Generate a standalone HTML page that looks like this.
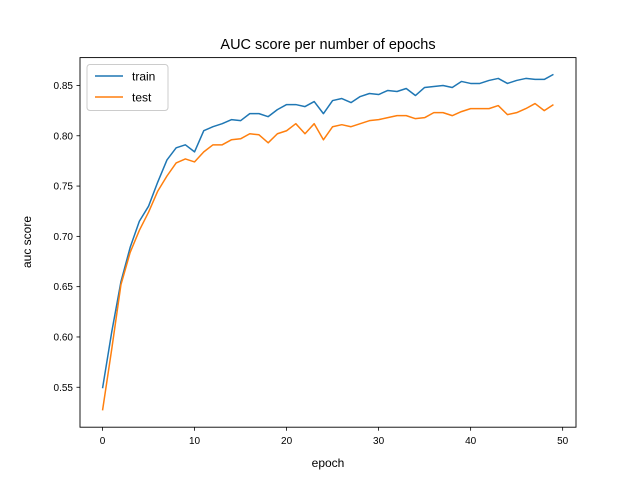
<!DOCTYPE html>
<html><head><meta charset="utf-8"><style>
html,body{margin:0;padding:0;background:#fff;}
svg{display:block;font-family:"Liberation Sans","DejaVu Sans",sans-serif;}
</style></head><body>
<svg id="chart" width="640" height="480" viewBox="0 0 640 480">
<rect width="640" height="480" fill="#fff"/>
<text x="328" y="49" font-size="14.5" text-anchor="middle">AUC score per number of epochs</text>
<g id="ticks"></g>
<g id="lines"></g>
<rect x="80" y="57.6" width="496" height="369.6" fill="none" stroke="#000" stroke-width="0.9"/>
<text x="328" y="467" font-size="12" text-anchor="middle">epoch</text>
<text x="31" y="242" font-size="12" text-anchor="middle" transform="rotate(-90 31 242)">auc score</text>
<g>
<rect x="87" y="64.5" width="81" height="46" rx="3" fill="#fff" fill-opacity="0.8" stroke="#ccc"/>
<line x1="95" y1="76" x2="123" y2="76" stroke="#1f77b4" stroke-width="1.5"/>
<text x="132" y="80.5" font-size="12">train</text>
<line x1="95" y1="97" x2="123" y2="97" stroke="#ff7f0e" stroke-width="1.5"/>
<text x="132" y="101.5" font-size="12">test</text>
</g>
</svg>
<script>
const train = [0.549,0.605,0.655,0.689,0.715,0.730,0.754,0.776,0.788,0.791,0.784,0.805,0.809,0.812,0.816,0.815,0.822,0.822,0.819,0.826,0.831,0.831,0.829,0.834,0.822,0.835,0.837,0.833,0.839,0.842,0.841,0.845,0.844,0.847,0.840,0.848,0.849,0.850,0.848,0.854,0.852,0.852,0.855,0.857,0.852,0.855,0.857,0.856,0.856,0.861];
const test = [0.527,0.588,0.652,0.684,0.706,0.724,0.745,0.760,0.773,0.777,0.774,0.784,0.791,0.791,0.796,0.797,0.802,0.801,0.793,0.802,0.805,0.812,0.802,0.812,0.796,0.809,0.811,0.809,0.812,0.815,0.816,0.818,0.820,0.820,0.817,0.818,0.823,0.823,0.820,0.824,0.827,0.827,0.827,0.830,0.821,0.823,0.827,0.832,0.825,0.831];
const xTicks = [0,10,20,30,40,50];
const yTicks = [0.55,0.60,0.65,0.70,0.75,0.80,0.85];
const NS="http://www.w3.org/2000/svg";
const L=80,R=576,T=57.6,B=427.2;
const n=train.length;
const all=train.concat(test);
const ymin=Math.min(...all), ymax=Math.max(...all);
const x0=-(n-1)*0.05, x1=(n-1)*1.05;
const y0=ymin-(ymax-ymin)*0.05, y1=ymax+(ymax-ymin)*0.05;
const sx=v=>L+(v-x0)/(x1-x0)*(R-L);
const sy=v=>B-(v-y0)/(y1-y0)*(B-T);
const tg=document.getElementById('ticks');
function mk(tag,attrs,parent){const e=document.createElementNS(NS,tag);for(const k in attrs)e.setAttribute(k,attrs[k]);parent.appendChild(e);return e;}
xTicks.forEach(t=>{
  const l=mk('line',{x1:sx(t),x2:sx(t),y1:B,y2:B+3.5,stroke:'#000','stroke-width':0.8},tg);
  
  
  const tx=mk('text',{x:sx(t),y:B+17,'font-size':10,'text-anchor':'middle'},tg);
  tx.textContent=t;
  
  
});
yTicks.forEach(t=>{
  const l=mk('line',{x1:L-3.5,x2:L,y1:sy(t),y2:sy(t),stroke:'#000','stroke-width':0.8},tg);
  
  
  const tx=mk('text',{x:L-7,y:sy(t)+3.5,'font-size':10,'text-anchor':'end'},tg);
  tx.textContent=t.toFixed(2);
  
  
});
const lg=document.getElementById('lines');
[[train,'#1f77b4','train-line'],[test,'#ff7f0e','test-line']].forEach(([d,c,name])=>{
  const p=mk('polyline',{points:d.map((v,i)=>sx(i)+','+sy(v)).join(' '),fill:'none',stroke:c,'stroke-width':1.5,'stroke-linejoin':'round'},lg);
  
  
});
</script>
</body></html>
